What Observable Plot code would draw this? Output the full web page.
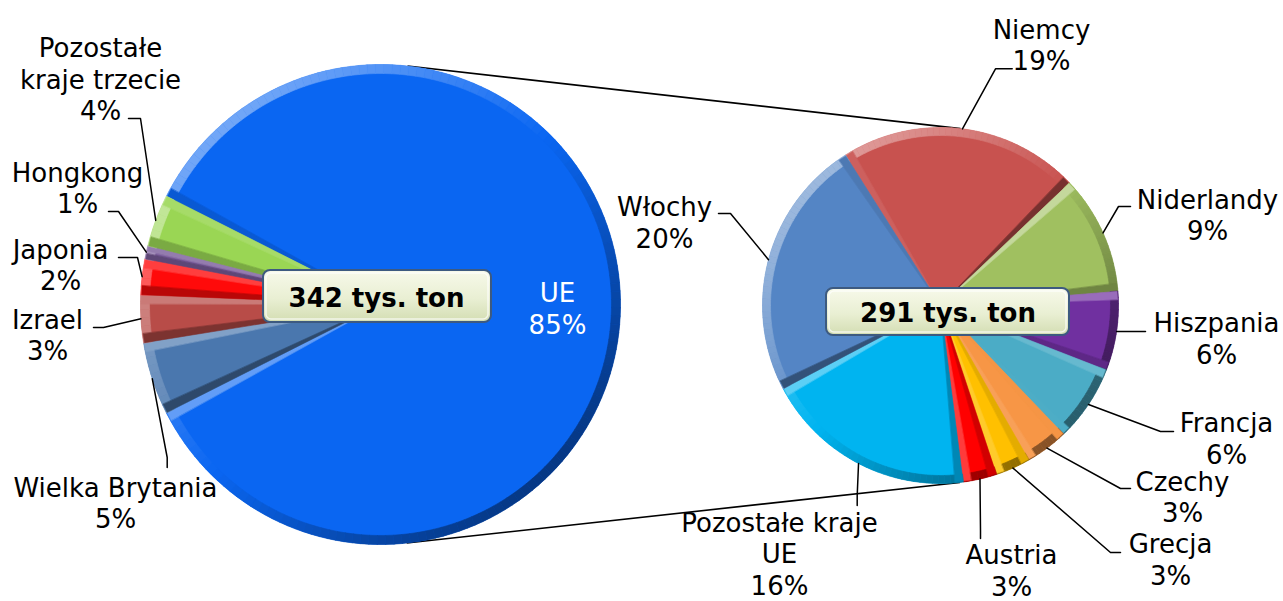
<!DOCTYPE html>
<html><head><meta charset="utf-8">
<script src="https://cdn.jsdelivr.net/npm/d3@7"></script>
<script src="https://cdn.jsdelivr.net/npm/@observablehq/plot@0.6"></script>
<style>body{margin:0;background:#fff}svg{display:block}</style>
</head><body><div id="chart"></div>
<script>
// ---- data ----
const leftNames = ["UE", "Wielka Brytania", "Izrael", "Japonia", "Hongkong", "Pozostałe kraje trzecie"];
const leftValues = [85.1, 4.9, 3.2, 2.4, 0.9, 3.5];
const leftColors = ["#0a66f2", "#4a77ae", "#b84c48", "#ff0a0a", "#7a5c9a", "#9ad654"];
const rightNames = ["Niemcy", "Niderlandy", "Hiszpania", "Francja", "Czechy", "Grecja", "Austria", "Pozostałe kraje UE", "Włochy"];
const rightValues = [18.6, 9.2, 6.1, 5.9, 3.3, 2.7, 2.6, 16.4, 20.2];
const rightColors = ["#c8524f", "#a0c060", "#7030a0", "#4bacc6", "#f79646", "#ffc000", "#ff0000", "#00b4f0", "#5485c5"];
const totalLabels = ["342 tys. ton", "291 tys. ton"];

// ---- layout ----
const W = 1283, H = 601, deg = Math.PI / 180;
const PL = {cx: 380, cy: 304, r: 240, bevel: 9};
const PR = {cx: 940, cy: 305, r: 178, bevel: 8};
const wrap = {"Pozostałe kraje trzecie": "Pozostałe\nkraje trzecie", "Pozostałe kraje UE": "Pozostałe kraje\nUE"};
// label block centre (x,y), leader attach point and elbow
const labelLayout = {
  "UE": {x: 557, y: 307.5, white: true},
  "Wielka Brytania": {x: 115, y: 502, a: [166.7, 467], e: [166.7, 457]},
  "Izrael": {x: 47, y: 334, a: [93, 327], e: [103, 327]},
  "Japonia": {x: 60, y: 264, a: [118, 257], e: [137, 257]},
  "Hongkong": {x: 77, y: 187, a: [108, 211], e: [118, 211]},
  "Pozostałe kraje trzecie": {x: 100, y: 78, a: [128, 118], e: [140, 118]},
  "Niemcy": {x: 1041, y: 44, a: [1011.7, 68.3], e: [995, 68.3]},
  "Niderlandy": {x: 1207, y: 214, a: [1130, 206], e: [1118, 206]},
  "Hiszpania": {x: 1216, y: 337.5, a: [1145, 331], e: [1133, 331]},
  "Francja": {x: 1226, y: 437.5, a: [1173, 431], e: [1160, 431]},
  "Czechy": {x: 1182, y: 496, a: [1130, 488], e: [1120, 488]},
  "Grecja": {x: 1170, y: 558.5, a: [1120, 552], e: [1110, 552]},
  "Austria": {x: 1011, y: 569.5, a: [980, 538], e: [980, 530]},
  "Pozostałe kraje UE": {x: 779, y: 552.5, a: [856.7, 505], e: [856.7, 495]},
  "Włochy": {x: 664, y: 221.5, a: [718, 213], e: [730, 213]}
};
const boxLayout = [
  {pie: PL, x1: -117, x2: 111, y1: -34, y2: 18, tx: -4, ty: -6},
  {pie: PR, x1: -114, x2: 129, y1: -17, y2: 30, tx: 7.5, ty: 8}
];

// ---- geometry ----
const pt = (p, r, a) => [p.cx + r * Math.sin(a), p.cy - r * Math.cos(a)];
const leftSmall = d3.sum(leftValues.slice(1)) / d3.sum(leftValues);
const leftStart = -Math.PI / 2 + leftSmall * Math.PI;
const rightStart = -32.3 * deg;
const mkArcs = (names, values, start) =>
  d3.pie().sort(null).value(d => d.value).startAngle(start).endAngle(start + 2 * Math.PI)(
    names.map((n, i) => ({name: n, value: values[i]})));
const arcsL = mkArcs(leftNames, leftValues, leftStart).map(a => ({...a, pie: PL}));
const arcsR = mkArcs(rightNames, rightValues, rightStart).map(a => ({...a, pie: PR}));
const allArcs = [...arcsL, ...arcsR];
const colorOf = new Map([...leftNames.map((n, i) => [n, leftColors[i]]), ...rightNames.map((n, i) => [n, rightColors[i]])]);

const lightDir = -45 * deg;
function shade(base, normal, k = 1) {
  const s = Math.cos(normal - lightDir);
  return s >= 0 ? d3.interpolateRgb(base, "#ffffff")(0.42 * s * k) : d3.interpolateRgb(base, "#000000")(-0.45 * s * k);
}

const baseRows = [], bevelRows = [];
let pid = 0;
for (const a of allArcs) {
  const p = a.pie, n = a.data.name, c = colorOf.get(n);
  const id = pid++;
  baseRows.push({id, name: n, x: p.cx, y: p.cy});
  for (let t = a.startAngle; t < a.endAngle; t += 1 * deg) { const [x, y] = pt(p, p.r, t); baseRows.push({id, name: n, x, y}); }
  { const [x, y] = pt(p, p.r, a.endAngle); baseRows.push({id, name: n, x, y}); }
  // rim band
  const b = p.bevel, step = 2 * deg;
  for (let t = a.startAngle; t < a.endAngle - 1e-9; t += step) {
    const t2 = Math.min(t + step, a.endAngle), col = shade(c, (t + t2) / 2);
    const q = pid++;
    for (const [r, ang] of [[p.r, t], [p.r, t2], [p.r - b, t2], [p.r - b, t]]) {
      const [x, y] = pt(p, r, ang); bevelRows.push({id: q, col, x, y});
    }
  }
  // radial edges (tapered)
  for (const [ang, nrm, inward] of [[a.startAngle, a.startAngle - Math.PI / 2, a.startAngle + Math.PI / 2], [a.endAngle, a.endAngle + Math.PI / 2, a.endAngle - Math.PI / 2]]) {
    const col = shade(c, nrm, 0.9), q = pid++;
    const [ox, oy] = pt(p, p.r - 1, ang);
    const w = Math.min(b, (p.r) * Math.sin((a.endAngle - a.startAngle) / 2) * 0.8);
    bevelRows.push({id: q, col, x: p.cx, y: p.cy});
    bevelRows.push({id: q, col, x: ox, y: oy});
    bevelRows.push({id: q, col, x: ox + w * Math.sin(inward), y: oy - w * Math.cos(inward)});
  }
}

// connectors: outer common tangents
const dx = PR.cx - PL.cx, dy = PR.cy - PL.cy, dist = Math.hypot(dx, dy), th = Math.atan2(dy, dx);
const phi = Math.acos((PL.r - PR.r) / dist);
const connectors = [th - phi, th + phi].map(g => ({
  x1: PL.cx + PL.r * Math.cos(g), y1: PL.cy + PL.r * Math.sin(g),
  x2: PR.cx + PR.r * Math.cos(g), y2: PR.cy + PR.r * Math.sin(g)
}));

// labels and leaders
const labels = [], leaders = [];
for (const a of allArcs) {
  const n = a.data.name, lay = labelLayout[n], p = a.pie;
  labels.push({x: lay.x, y: lay.y, white: !!lay.white, text: (wrap[n] || n) + "\n" + Math.round(a.data.value) + "%"});
  if (lay.a) {
    const [sx, sy] = pt(p, p.r, (a.startAngle + a.endAngle) / 2);
    for (const [x, y] of [lay.a, lay.e, [sx, sy]]) leaders.push({name: n, x, y});
  }
}
const boxes = boxLayout.map((b, i) => ({
  x1: b.pie.cx + b.x1, x2: b.pie.cx + b.x2, y1: b.pie.cy + b.y1, y2: b.pie.cy + b.y2,
  tx: b.pie.cx + b.tx, ty: b.pie.cy + b.ty, text: totalLabels[i]
}));

const font = "DejaVu Sans, Verdana, sans-serif";
const FS = 26, LH = 1.21;
const chart = Plot.plot({
  width: W, height: H, margin: 0,
  x: {domain: [0, W], range: [0, W], axis: null},
  y: {domain: [0, H], range: [0, H], axis: null},
  color: {domain: [...leftNames, ...rightNames], range: [...leftColors, ...rightColors]},
  style: {fontFamily: font, background: "white"},
  marks: [
    Plot.link(connectors, {x1: "x1", y1: "y1", x2: "x2", y2: "y2", stroke: "black", strokeWidth: 1.6}),
    Plot.line(baseRows, {x: "x", y: "y", z: "id", fill: "name", stroke: "none", curve: "linear-closed"}),
    Plot.line(bevelRows, {x: "x", y: "y", z: "id", fill: "col", stroke: "col", strokeWidth: 0.6, curve: "linear-closed"}),
    Plot.line(leaders, {x: "x", y: "y", z: "name", stroke: "black", strokeWidth: 1.5}),
    Plot.text(labels.filter(d => !d.white), {x: "x", y: "y", text: "text", fontSize: FS, lineHeight: LH, fill: "black"}),
    Plot.text(labels.filter(d => d.white), {x: "x", y: "y", text: "text", fontSize: FS, lineHeight: LH, fill: "white"}),
    Plot.rect(boxes, {x1: "x1", x2: "x2", y1: "y1", y2: "y2", rx: 7, fill: "url(#boxGrad)", stroke: "#3d5a80", strokeWidth: 2}),
    Plot.rect(boxes, {x1: d => d.x1 + 3, x2: d => d.x2 - 3, y1: d => d.y1 + 3, y2: d => d.y2 - 3, rx: 5, fill: "none", stroke: "white", strokeOpacity: 0.7, strokeWidth: 1.5}),
    Plot.text(boxes, {x: "tx", y: "ty", text: "text", fontSize: FS, fontWeight: "bold", fill: "black"})
  ]
});
const defs = d3.select(chart).insert("defs", ":first-child");
const g = defs.append("linearGradient").attr("id", "boxGrad").attr("x1", 0).attr("y1", 0).attr("x2", 0).attr("y2", 1);
g.append("stop").attr("offset", "0%").attr("stop-color", "#f7f9ea");
g.append("stop").attr("offset", "55%").attr("stop-color", "#e9efd3");
g.append("stop").attr("offset", "100%").attr("stop-color", "#d3ddb2");
document.getElementById("chart").appendChild(chart);
</script>
</body></html>
